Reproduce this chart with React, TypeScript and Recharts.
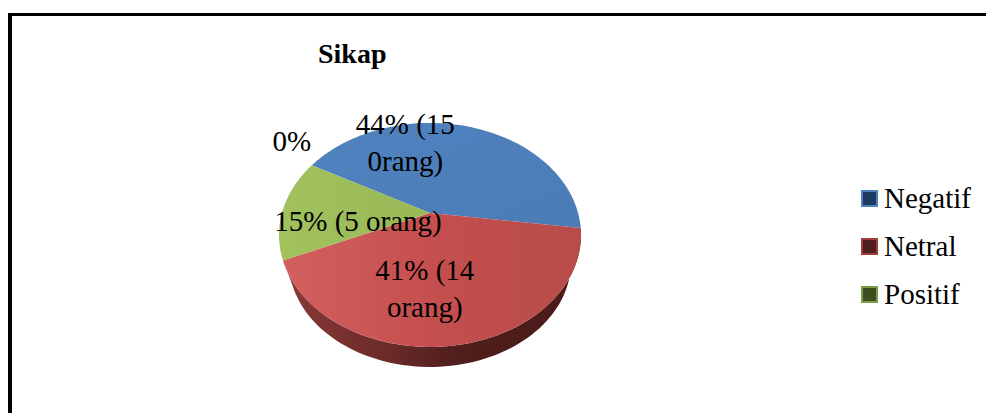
import React from "react";
import { PieChart, Pie, Legend } from "recharts";

const names = ["Negatif", "Netral", "Positif", "Kosong"];
const values = [15, 14, 5, 0];
const labelLines = [["44% (15", "0rang)"], ["41% (14", "orang)"], ["15% (5 orang)"], ["0%"]];
const fills = ["url(#faceBlue)", "url(#faceRed)", "url(#faceGreen)", "#9bbb59"];
const swatchFills = ["#1f3a60", "#4e1f1e", "#3d4d22"];
const swatchBorders = ["#4f81bd", "#a23f3c", "#7f9a48"];
const legendNames = names.slice(0, 3);
// label offset from slice midpoint (fraction of radius, dx, dy)
const labelPlacement = [
  { frac: 0.55, dx: -48, dy: -20 },
  { frac: 0.55, dx: -18, dy: 10 },
  { frac: 0.55, dx: 9, dy: 11 },
  { frac: 1.0, dx: -20, dy: -24 },
];
const LINE_GAP = 37;

const W = 986;
const H = 413;
const RX = 151;
const RY = 112;
const K = 0.196;
const APEX = -22;
const CX = 430;
const CY = 235;
const FONT = '"Liberation Serif", "Times New Roman", serif';

const table = names.map((name, i) => ({ name, value: values[i], fill: fills[i] }));

// perspective projection of a circle point onto the tilted top face
function project(deg: number, frac: number, cx: number, cy: number, rx = RX, ry = RY) {
  const a = (deg * Math.PI) / 180;
  const u = Math.cos(a) * frac;
  const v = -Math.sin(a) * frac;
  const w = 1 - K * v;
  const A = rx * Math.sqrt(1 - K * K);
  return { x: cx + (A * u) / w, y: cy + (ry * v + (APEX * ry) / RY) / w };
}

function arcPoints(start: number, end: number, cx: number, cy: number, rx = RX, ry = RY) {
  const steps = Math.max(2, Math.ceil(Math.abs(end - start) / 2));
  const pts = [];
  for (let i = 0; i <= steps; i++) pts.push(project(start + ((end - start) * i) / steps, 1, cx, cy, rx, ry));
  return pts;
}

const toPath = (pts: { x: number; y: number }[]) =>
  pts.map((p, i) => `${i ? "L" : "M"}${p.x.toFixed(2)} ${p.y.toFixed(2)}`).join(" ");

function FaceShape(props: any) {
  const { cx, cy, startAngle, endAngle, fill, value } = props;
  if (!value) return <g />;
  const apex = project(0, 0, cx, cy);
  const pts = arcPoints(startAngle, endAngle, cx, cy);
  return <path d={`${toPath([apex, ...pts])} Z`} fill={fill} stroke="none" />;
}

function WallShape(props: any) {
  const { cx, cy, startAngle, endAngle, index } = props;
  if (index !== 1) return <g />;
  const top = arcPoints(startAngle, endAngle, cx, cy);
  const bottom = arcPoints(endAngle, startAngle, cx, cy + 27, 141, 105);
  return <path d={`${toPath([...top, ...bottom])} Z`} fill="url(#wallRed)" stroke="none" />;
}

function renderLabel(props: any) {
  const { cx, cy, midAngle, index } = props;
  const place = labelPlacement[index];
  const p = project(midAngle, place.frac, cx, cy);
  const lines = labelLines[index];
  const y = p.y + place.dy - ((lines.length - 1) * LINE_GAP) / 2;
  return (
    <text
      x={p.x + place.dx}
      y={y}
      textAnchor="middle"
      dominantBaseline="central"
      fontFamily={FONT}
      fontSize={29}
      fill="#000"
    >
      {lines.map((line, i) => (
        <tspan key={i} x={p.x + place.dx} dy={i === 0 ? 0 : LINE_GAP}>
          {line}
        </tspan>
      ))}
    </text>
  );
}

function renderLegend() {
  return (
    <div style={{ fontFamily: FONT, fontSize: 29, color: "#000" }}>
      {legendNames.map((n, i) => (
        <div key={n} style={{ display: "flex", alignItems: "center", height: 48 }}>
          <span
            style={{
              display: "inline-block",
              boxSizing: "border-box",
              width: 17,
              height: 17,
              marginRight: 6,
              background: swatchFills[i],
              border: `2px solid ${swatchBorders[i]}`,
            }}
          />
          {n}
        </div>
      ))}
    </div>
  );
}

export default function App() {
  return (
    <div style={{ position: "absolute", left: 0, top: 0, width: W, height: H, background: "#fff", overflow: "hidden" }}>
      <div
        style={{
          position: "absolute",
          left: 8,
          top: 13,
          width: 990,
          height: 420,
          borderLeft: "4px solid #000",
          borderTop: "3px solid #000",
        }}
      />
      <div
        style={{
          position: "absolute",
          left: 318,
          top: 38,
          fontFamily: FONT,
          fontSize: 28,
          fontWeight: "bold",
          lineHeight: "32px",
          color: "#000",
        }}
      >
        Sikap
      </div>
      <div style={{ position: "absolute", left: 0, top: 0 }}>
        <PieChart width={W} height={H} margin={{ top: 0, right: 0, bottom: 0, left: 0 }}>
          <defs>
            <linearGradient id="faceBlue" x1="0" y1="0" x2="1" y2="1">
              <stop offset="0" stopColor="#4f82c0" />
              <stop offset="1" stopColor="#4b7cb6" />
            </linearGradient>
            <linearGradient id="faceRed" x1="0" y1="0" x2="1" y2="0">
              <stop offset="0" stopColor="#d45f5f" />
              <stop offset="0.5" stopColor="#c44f4e" />
              <stop offset="1" stopColor="#b84c4a" />
            </linearGradient>
            <linearGradient id="faceGreen" x1="0" y1="0" x2="1" y2="0">
              <stop offset="0" stopColor="#a2c25e" />
              <stop offset="1" stopColor="#98b856" />
            </linearGradient>
            <linearGradient id="wallRed" x1="0" y1="0" x2="1" y2="0">
              <stop offset="0" stopColor="#8a3a38" />
              <stop offset="0.35" stopColor="#6a2b29" />
              <stop offset="0.6" stopColor="#4e1e1c" />
              <stop offset="1" stopColor="#4a1b19" />
            </linearGradient>
          </defs>
          <Pie
            data={table}
            dataKey="value"
            nameKey="name"
            cx={CX}
            cy={CY}
            outerRadius={RX}
            startAngle={151}
            endAngle={-209}
            paddingAngle={0}
            stroke="none"
            legendType="none"
            shape={WallShape}
            label={false}
            labelLine={false}
            isAnimationActive={false}
          />
          <Pie
            data={table}
            dataKey="value"
            nameKey="name"
            cx={CX}
            cy={CY}
            outerRadius={RX}
            startAngle={151}
            endAngle={-209}
            paddingAngle={0}
            stroke="none"
            shape={FaceShape}
            label={renderLabel}
            labelLine={false}
            isAnimationActive={false}
          />
          <Legend
            layout="vertical"
            content={renderLegend}
            wrapperStyle={{ position: "absolute", left: 861, top: 174, width: 125 }}
          />
        </PieChart>
      </div>
    </div>
  );
}
